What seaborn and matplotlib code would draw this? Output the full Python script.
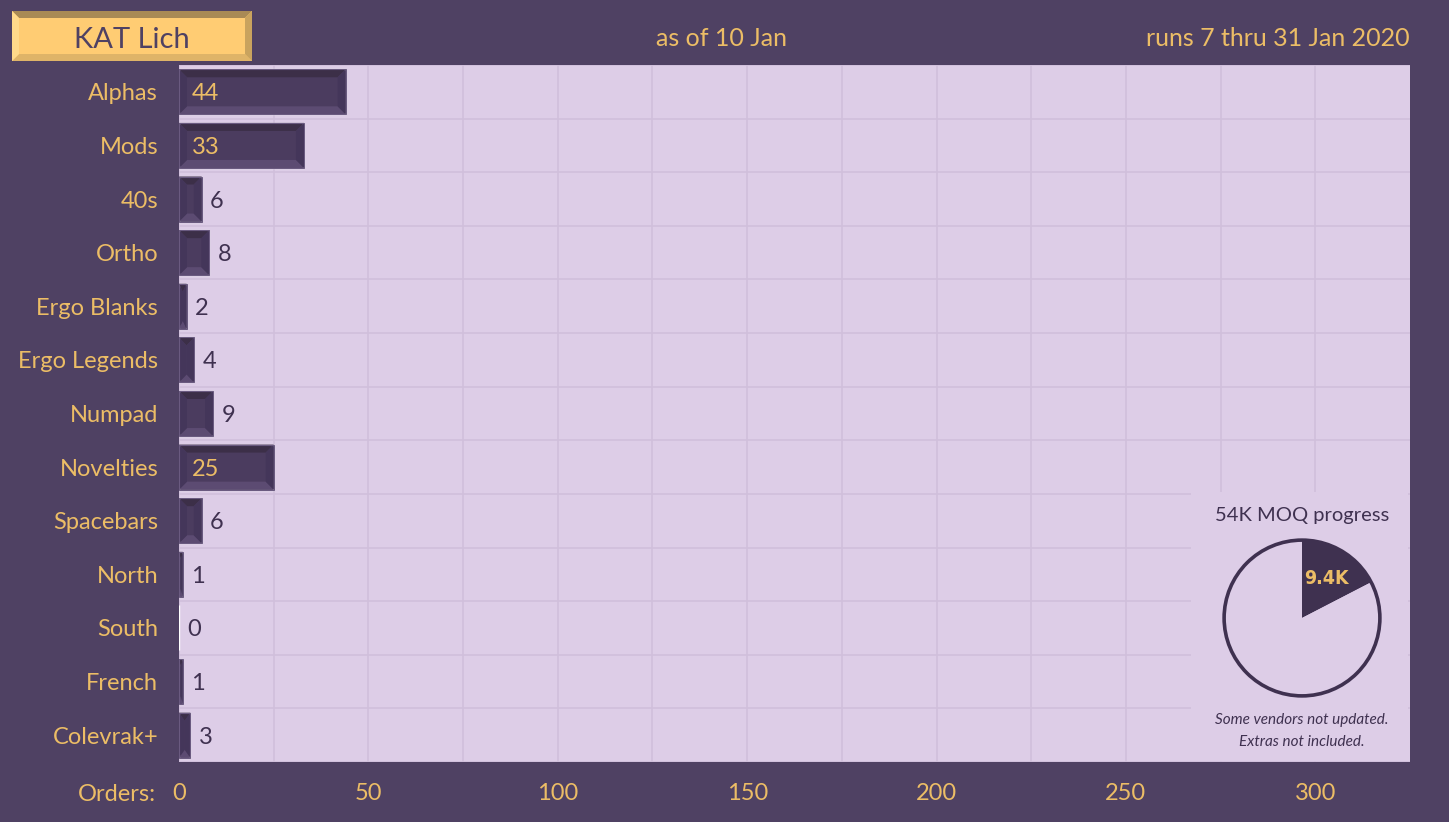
import numpy as np
import matplotlib
matplotlib.use("Agg")
import matplotlib.pyplot as plt
from matplotlib.patches import Polygon, Rectangle, Circle
import seaborn as sns

# data
categories = ['Alphas', 'Mods', '40s', 'Ortho', 'Ergo Blanks', 'Ergo Legends', 'Numpad',
              'Novelties', 'Spacebars', 'North', 'South', 'French', 'Colevrak+']
orders = [44, 33, 6, 8, 2, 4, 9, 25, 6, 1, 0, 1, 3]
x_ticks = [0, 50, 100, 150, 200, 250, 300]
moq_total = 54.0
moq_progress = 9.4
moq_label = '9.4K'

# colours
fig_bg = '#4f4163'
plot_bg = '#ddcde7'
grid_col = '#d0bfdb'
gold = '#ecbd66'
dark = '#3f3150'
bar_face = '#4b3c5f'
bev_top = '#3c2f48'
bev_bot = '#5c4b72'
bev_side = '#44365a'

sns.set_theme(style='white')
plt.rcParams['font.family'] = ['Lato', 'DejaVu Sans']

fig = plt.figure(figsize=(14.49, 8.22), dpi=100, facecolor=fig_bg)
ax = fig.add_axes([179 / 1449, 1 - 762 / 822, (1410 - 179) / 1449, (762 - 65) / 822])
ax.set_facecolor(plot_bg)

sns.barplot(x=orders, y=categories, orient='h', color=bar_face, width=0.84,
            saturation=1, ax=ax, zorder=3)

ax.set_xlim(0, 325)
ax.set_ylim(len(categories) - 0.5, -0.5)
ax.set_xticks(x_ticks)
ax.set_xticks(np.arange(25, 325, 25), minor=True)
ax.set_yticks(np.arange(-0.5, len(categories), 1), minor=True)
ax.grid(False)
ax.grid(True, which='minor', color=grid_col, linewidth=1.2, zorder=0)
ax.grid(True, which='major', axis='x', color=grid_col, linewidth=1.2, zorder=0)
ax.set_axisbelow(True)
ax.tick_params(axis='both', which='both', length=0)
ax.tick_params(axis='y', labelsize=17, labelcolor=gold, pad=15)
ax.tick_params(axis='x', labelsize=17, labelcolor=gold, pad=15)
ax.set_xlabel('')
ax.set_ylabel('')
for s in ax.spines.values():
    s.set_visible(False)

# bevel on bars, using the bar geometry from the library
px_x = 325 / (1410 - 179)
px_y = len(categories) / (762 - 65)
for p, v in zip(ax.patches, orders):
    x0, y0, w, h = p.get_x(), p.get_y(), p.get_width(), p.get_height()
    if w <= 0:
        continue
    x1, y1 = x0 + w, y0 + h
    bx = min(8 * px_x, w / 2)
    by = 8 * px_y
    polys = [
        ([(x0, y0), (x1, y0), (x1 - bx, y0 + by), (x0 + bx, y0 + by)], bev_top),
        ([(x0, y1), (x1, y1), (x1 - bx, y1 - by), (x0 + bx, y1 - by)], bev_bot),
        ([(x0, y0), (x0 + bx, y0 + by), (x0 + bx, y1 - by), (x0, y1)], bev_side),
        ([(x1, y0), (x1 - bx, y0 + by), (x1 - bx, y1 - by), (x1, y1)], bev_side),
    ]
    for pts, c in polys:
        ax.add_patch(Polygon(pts, closed=True, facecolor=c, edgecolor='none', zorder=4))
    ax.add_patch(Rectangle((x0, y0), w, h, facecolor='none', edgecolor='#6a5a80',
                           linewidth=0.8, zorder=5))

# value labels
for i, v in enumerate(orders):
    if v >= 20:
        ax.text(3.4, i, str(v), color=gold, fontsize=17, va='center_baseline',
                ha='left', zorder=6)
    else:
        ax.text(v + 2.2, i, str(v), color=dark, fontsize=17, va='center_baseline',
                ha='left', zorder=6)

fig.text(156 / 1449, 1 - 792 / 822, 'Orders:', color=gold, fontsize=17,
         ha='right', va='center_baseline')

# title box with bevel
tx0, tx1 = 12 / 1449, 252 / 1449
ty0, ty1 = 1 - 61 / 822, 1 - 11 / 822
bxf, byf = 7 / 1449, 7 / 822
fig.patches.append(Rectangle((tx0, ty0), tx1 - tx0, ty1 - ty0, transform=fig.transFigure,
                             facecolor='#ffcc73', edgecolor='none', zorder=1))
for pts, c in [
    ([(tx0, ty1), (tx1, ty1), (tx1 - bxf, ty1 - byf), (tx0 + bxf, ty1 - byf)], '#a98a55'),
    ([(tx0, ty0), (tx1, ty0), (tx1 - bxf, ty0 + byf), (tx0 + bxf, ty0 + byf)], '#dfb468'),
    ([(tx0, ty0), (tx0 + bxf, ty0 + byf), (tx0 + bxf, ty1 - byf), (tx0, ty1)], '#ffd98a'),
    ([(tx1, ty0), (tx1 - bxf, ty0 + byf), (tx1 - bxf, ty1 - byf), (tx1, ty1)], '#c9a35e'),
]:
    fig.patches.append(Polygon(pts, closed=True, transform=fig.transFigure,
                               facecolor=c, edgecolor='none', zorder=2))
fig.text((tx0 + tx1) / 2, 1 - 38 / 822, 'KAT Lich', color='#4f4163', fontsize=21,
         ha='center', va='center_baseline', zorder=3)
fig.text(722 / 1449, 1 - 36 / 822, 'as of 10 Jan', color=gold, fontsize=18,
         ha='center', va='center_baseline')
fig.text(1410 / 1449, 1 - 36 / 822, 'runs 7 thru 31 Jan 2020', color=gold, fontsize=18,
         ha='right', va='center_baseline')

# cover box for the MOQ pie
fig.patches.append(Rectangle((1191 / 1449, 1 - 761 / 822), 217 / 1449, 269 / 822,
                             transform=fig.transFigure, facecolor=plot_bg,
                             edgecolor='none', zorder=1))
pax = fig.add_axes([1221 / 1449, 1 - 699 / 822, 162 / 1449, 162 / 822], zorder=3)
pax.set_facecolor('none')
wedges, texts = pax.pie([moq_progress, moq_total - moq_progress], colors=[dark, plot_bg],
                        startangle=90, counterclock=False, labels=[moq_label, ''],
                        labeldistance=0.6, wedgeprops=dict(edgecolor='none'))
texts[0].set_color(gold)
texts[0].set_fontsize(14)
texts[0].set_fontweight('bold')
texts[0].set_fontstretch('condensed')
texts[0].set_family(['DejaVu Sans'])
texts[0].set_ha('center')
texts[0].set_va('center')
pax.add_patch(Circle((0, 0), 1, facecolor='none', edgecolor=dark, linewidth=2.6))
pax.set_xlim(-1.04, 1.04)
pax.set_ylim(-1.04, 1.04)
pax.set_aspect('equal')

fig.text(1302 / 1449, 1 - 514 / 822, '54K MOQ progress', color=dark, fontsize=14.5,
         ha='center', va='center_baseline', zorder=4)
fig.text(1302 / 1449, 1 - 718 / 822, 'Some vendors not updated.', color=dark, fontsize=11,
         style='italic', ha='center', va='center_baseline', zorder=4)
fig.text(1302 / 1449, 1 - 740 / 822, 'Extras not included.', color=dark, fontsize=11,
         style='italic', ha='center', va='center_baseline', zorder=4)

fig.savefig('out.png', dpi=100, facecolor=fig_bg)
